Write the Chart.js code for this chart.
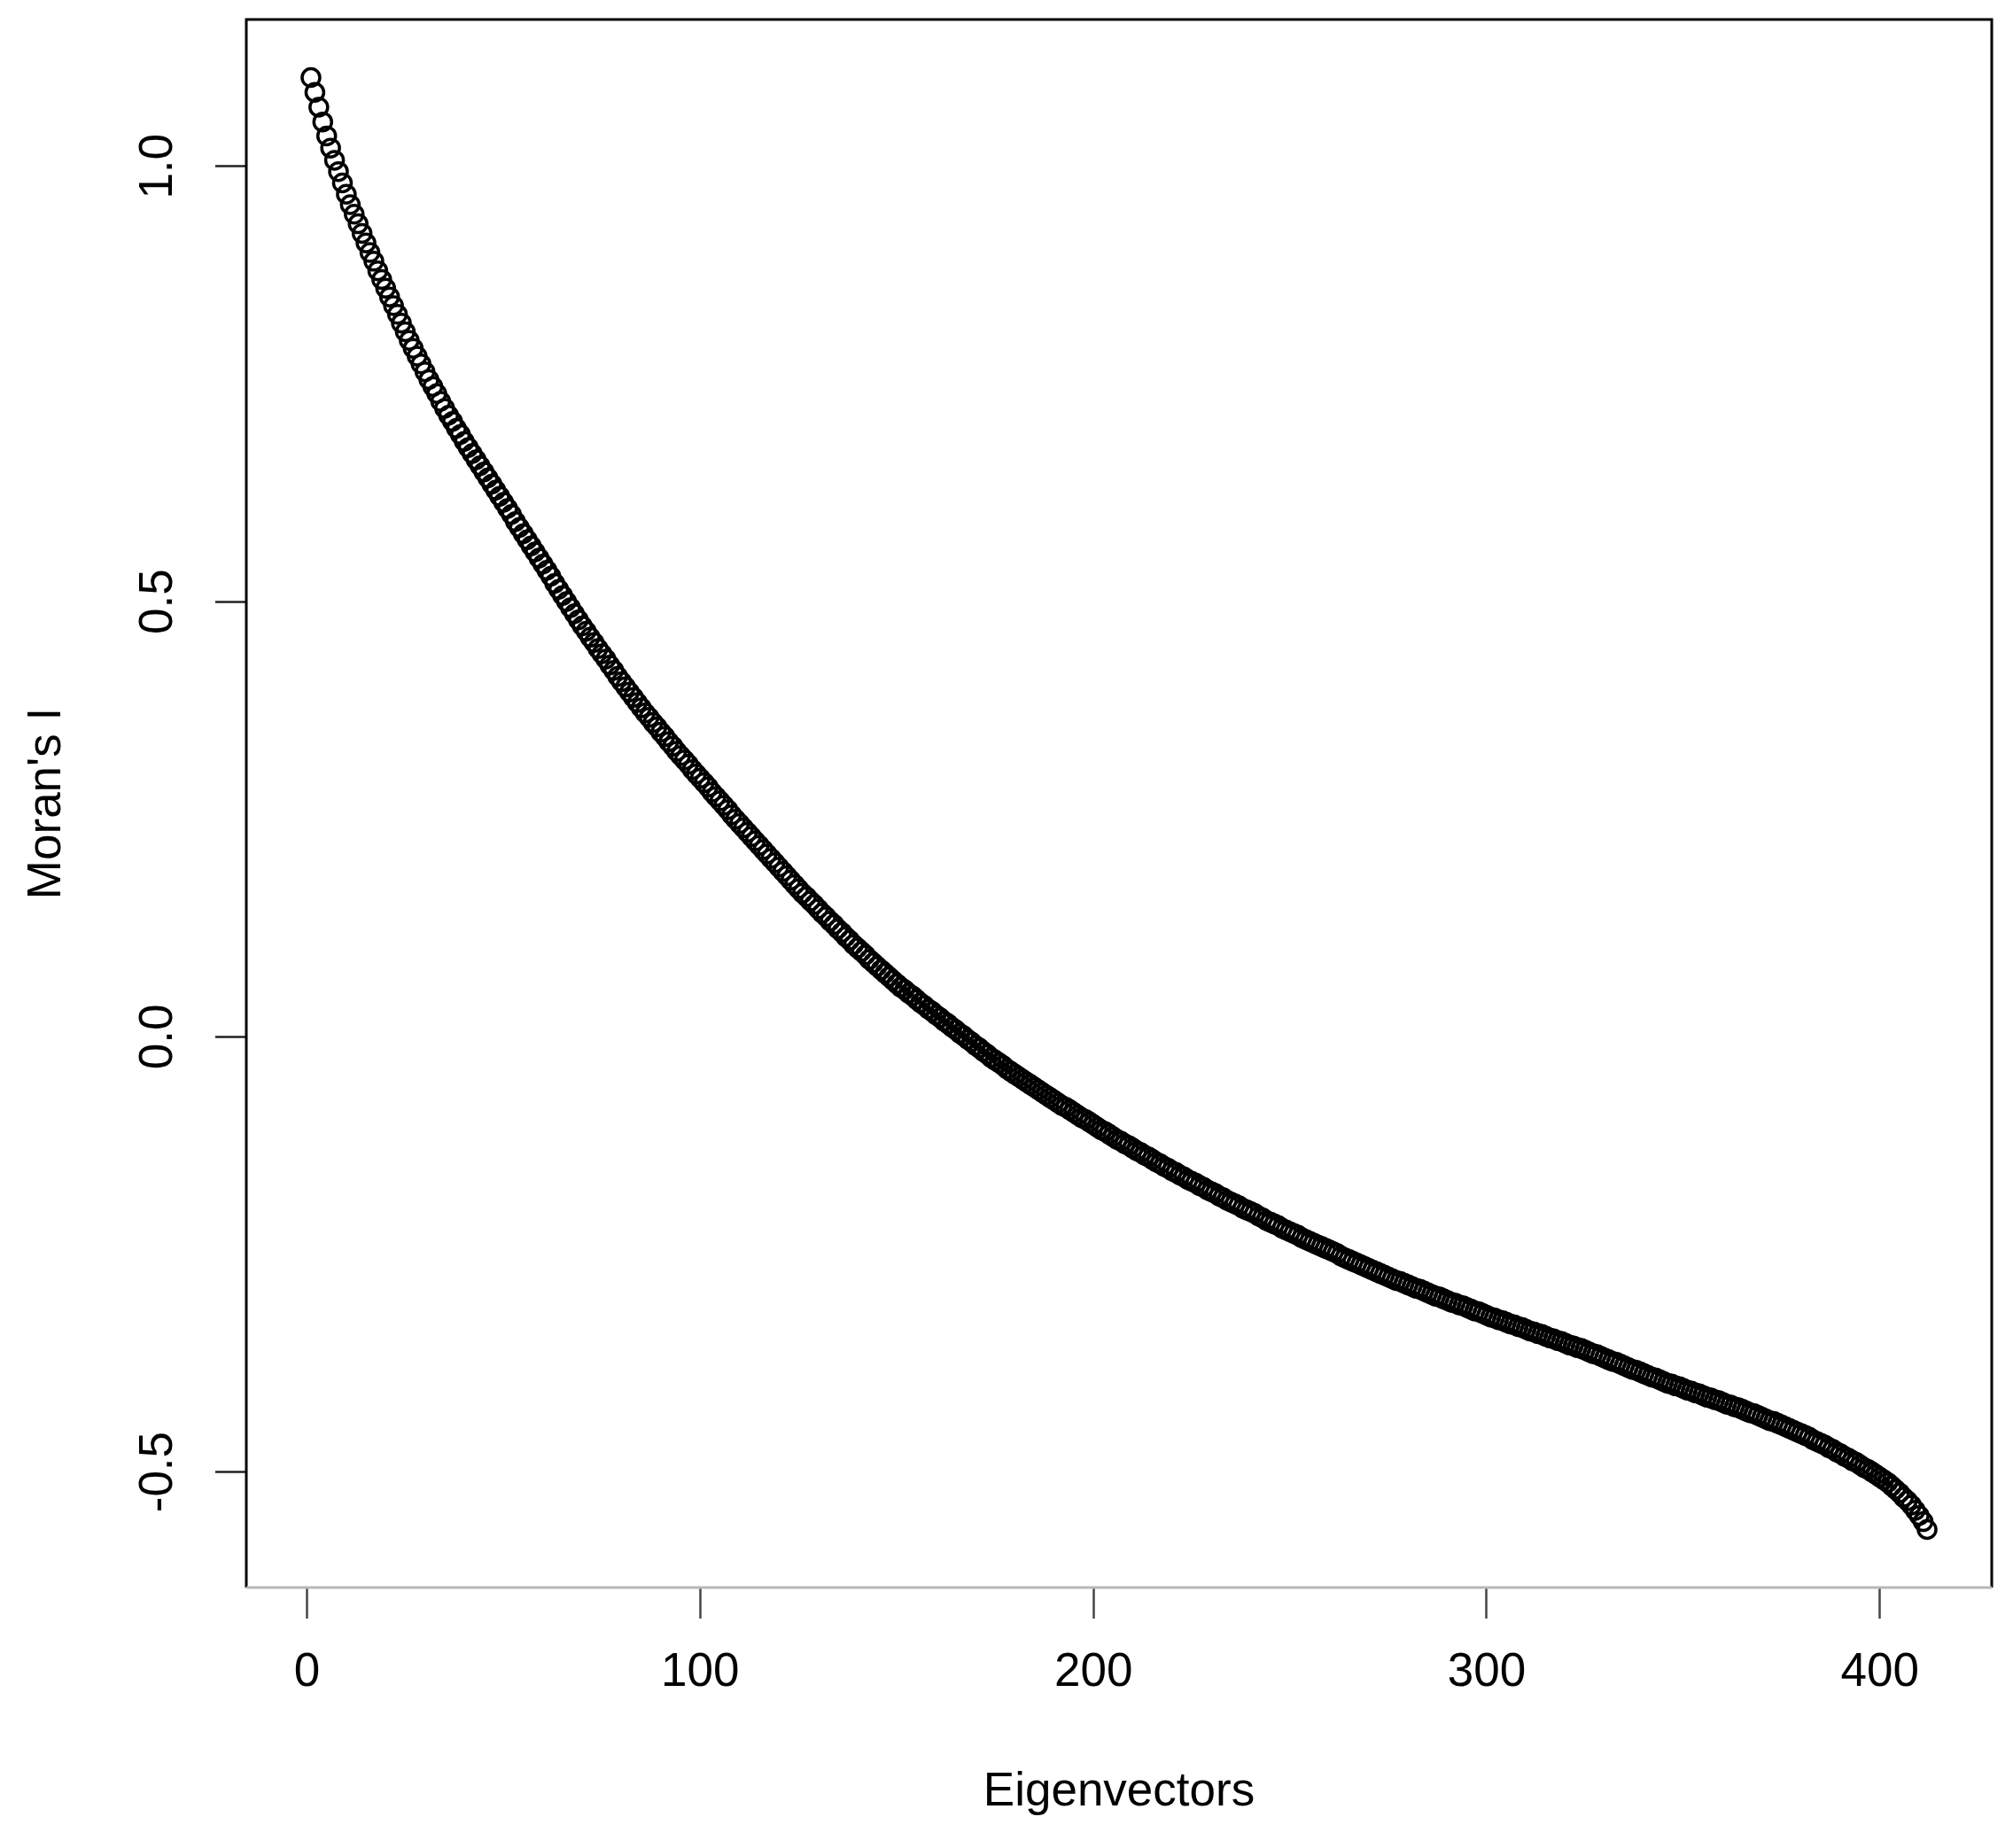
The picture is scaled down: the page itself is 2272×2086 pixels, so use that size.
<!DOCTYPE html>
<html>
<head>
<meta charset="utf-8">
<title>Moran's I of eigenvectors</title>
<script src="https://cdn.jsdelivr.net/npm/chart.js@4.4.1/dist/chart.umd.min.js"></script>
<style>
  html, body { margin: 0; padding: 0; background: #fff; }
  #wrap { width: 2272px; height: 2086px; }
</style>
</head>
<body>
<div id="wrap"><canvas id="moranChart"></canvas></div>
<script>
// Moran's I of each eigenvector (eigenvector 1 .. 412)
const moranI = [
  1.102, 1.085, 1.068, 1.051, 1.035, 1.021, 1.007, 0.994, 0.981, 0.968,
  0.956, 0.945, 0.934, 0.923, 0.912, 0.901, 0.891, 0.880, 0.870, 0.860,
  0.850, 0.840, 0.830, 0.820, 0.810, 0.800, 0.791, 0.782, 0.773, 0.764,
  0.755, 0.747, 0.739, 0.730, 0.722, 0.714, 0.707, 0.699, 0.692, 0.684,
  0.677, 0.670, 0.663, 0.656, 0.649, 0.642, 0.635, 0.628, 0.621, 0.614,
  0.607, 0.600, 0.592, 0.585, 0.578, 0.571, 0.564, 0.557, 0.550, 0.543,
  0.536, 0.529, 0.521, 0.514, 0.507, 0.500, 0.493, 0.486, 0.479, 0.472,
  0.466, 0.459, 0.453, 0.446, 0.440, 0.434, 0.427, 0.421, 0.414, 0.408,
  0.402, 0.396, 0.390, 0.384, 0.378, 0.372, 0.367, 0.361, 0.356, 0.350,
  0.345, 0.339, 0.334, 0.328, 0.323, 0.318, 0.313, 0.307, 0.302, 0.297,
  0.292, 0.287, 0.281, 0.276, 0.271, 0.266, 0.261, 0.255, 0.250, 0.245,
  0.240, 0.235, 0.230, 0.225, 0.220, 0.215, 0.210, 0.205, 0.200, 0.195,
  0.190, 0.185, 0.180, 0.175, 0.170, 0.165, 0.161, 0.156, 0.152, 0.147,
  0.142, 0.138, 0.133, 0.129, 0.124, 0.120, 0.115, 0.111, 0.106, 0.102,
  0.098, 0.094, 0.089, 0.085, 0.081, 0.077, 0.073, 0.069, 0.065, 0.061,
  0.057, 0.054, 0.050, 0.047, 0.043, 0.039, 0.036, 0.032, 0.029, 0.025,
  0.022, 0.018, 0.015, 0.011, 0.008, 0.004, 0.001, -0.003, -0.006, -0.010,
  -0.013, -0.017, -0.020, -0.024, -0.027, -0.030, -0.033, -0.037, -0.040, -0.043,
  -0.046, -0.049, -0.052, -0.055, -0.058, -0.061, -0.064, -0.067, -0.070, -0.073,
  -0.076, -0.079, -0.081, -0.084, -0.087, -0.090, -0.093, -0.095, -0.098, -0.101,
  -0.104, -0.107, -0.109, -0.112, -0.115, -0.118, -0.120, -0.123, -0.125, -0.128,
  -0.131, -0.133, -0.136, -0.138, -0.141, -0.144, -0.146, -0.149, -0.151, -0.154,
  -0.156, -0.159, -0.161, -0.164, -0.166, -0.168, -0.171, -0.173, -0.176, -0.178,
  -0.180, -0.183, -0.185, -0.188, -0.190, -0.192, -0.194, -0.197, -0.199, -0.201,
  -0.203, -0.206, -0.208, -0.211, -0.213, -0.215, -0.217, -0.220, -0.222, -0.224,
  -0.226, -0.228, -0.231, -0.233, -0.235, -0.237, -0.239, -0.241, -0.243, -0.245,
  -0.247, -0.249, -0.252, -0.254, -0.256, -0.258, -0.260, -0.262, -0.264, -0.266,
  -0.268, -0.270, -0.272, -0.274, -0.276, -0.278, -0.280, -0.281, -0.283, -0.285,
  -0.287, -0.289, -0.290, -0.292, -0.294, -0.296, -0.298, -0.299, -0.301, -0.303,
  -0.305, -0.306, -0.308, -0.309, -0.311, -0.313, -0.315, -0.316, -0.318, -0.320,
  -0.322, -0.323, -0.325, -0.326, -0.328, -0.330, -0.331, -0.333, -0.334, -0.336,
  -0.338, -0.339, -0.341, -0.342, -0.344, -0.346, -0.347, -0.349, -0.350, -0.352,
  -0.354, -0.355, -0.357, -0.358, -0.360, -0.362, -0.364, -0.365, -0.367, -0.369,
  -0.371, -0.373, -0.374, -0.376, -0.378, -0.380, -0.382, -0.383, -0.385, -0.387,
  -0.389, -0.391, -0.392, -0.394, -0.396, -0.398, -0.399, -0.401, -0.402, -0.404,
  -0.406, -0.407, -0.409, -0.410, -0.412, -0.414, -0.415, -0.417, -0.418, -0.420,
  -0.422, -0.423, -0.425, -0.426, -0.428, -0.430, -0.432, -0.433, -0.435, -0.437,
  -0.439, -0.441, -0.442, -0.444, -0.446, -0.448, -0.450, -0.452, -0.454, -0.456,
  -0.458, -0.460, -0.463, -0.465, -0.467, -0.469, -0.472, -0.474, -0.477, -0.479,
  -0.482, -0.484, -0.487, -0.489, -0.492, -0.495, -0.497, -0.500, -0.503, -0.506,
  -0.509, -0.512, -0.516, -0.520, -0.524, -0.529, -0.533, -0.538, -0.544, -0.550,
  -0.557, -0.566
];

const xTicks = [0, 100, 200, 300, 400];
const yTicks = [-0.5, 0.0, 0.5, 1.0];
const yTickLabels = ['-0.5', '0.0', '0.5', '1.0'];

const xTitle = 'Eigenvectors';
const yTitle = "Moran's I";

// R-style axis limits: data range stretched by 4% on each side
const xMinData = 1;
const xMaxData = moranI.length;
const yMinData = Math.min(...moranI);
const yMaxData = Math.max(...moranI);
const xPad = (xMaxData - xMinData) * 0.04;
const yPad = (yMaxData - yMinData) * 0.04;

const points = moranI.map((v, i) => ({ x: i + 1, y: v }));

const fontFamily = "'Liberation Sans', Arial, sans-serif";
const labelFont = { family: fontFamily, size: 53 };

// plot frame drawn like R's box()
const framePlugin = {
  id: 'frame',
  afterDatasetsDraw(chart) {
    const { ctx, chartArea: a } = chart;
    ctx.save();
    ctx.lineWidth = 3;
    ctx.strokeStyle = '#000';
    ctx.beginPath();
    ctx.moveTo(a.left, a.bottom);
    ctx.lineTo(a.left, a.top);
    ctx.lineTo(a.right, a.top);
    ctx.lineTo(a.right, a.bottom);
    ctx.stroke();
    ctx.strokeStyle = '#b8b8b8';
    ctx.beginPath();
    ctx.moveTo(a.left, a.bottom);
    ctx.lineTo(a.right, a.bottom);
    ctx.stroke();
    ctx.restore();
  }
};

const ctx = document.getElementById('moranChart').getContext('2d');

new Chart(ctx, {
  type: 'scatter',
  plugins: [framePlugin],
  data: {
    datasets: [
      {
        label: yTitle,
        data: points,
        showLine: false,
        pointStyle: 'circle',
        pointRadius: 10,
        pointBorderWidth: 3.5,
        pointBorderColor: '#000',
        pointBackgroundColor: 'rgba(0,0,0,0)'
      }
    ]
  },
  options: {
    responsive: true,
    maintainAspectRatio: false,
    devicePixelRatio: 1,
    animation: false,
    layout: {
      padding: { top: 22, right: 24, left: 0, bottom: 0 }
    },
    plugins: {
      legend: { display: false },
      tooltip: { enabled: false }
    },
    scales: {
      x: {
        type: 'linear',
        position: 'bottom',
        min: xMinData - xPad,
        max: xMaxData + xPad,
        afterBuildTicks: scale => {
          scale.ticks = xTicks.map(v => ({ value: v }));
        },
        afterFit: scale => {
          scale.height = 294;
          scale.paddingLeft = 0;
          scale.paddingRight = 0;
        },
        ticks: {
          font: labelFont,
          color: '#000',
          padding: 30,
          maxRotation: 0,
          autoSkip: false,
          callback: value => String(value)
        },
        grid: {
          drawOnChartArea: false,
          drawTicks: true,
          tickLength: 35,
          tickWidth: 2.5,
          tickColor: '#444'
        },
        border: { display: false },
        title: {
          display: true,
          text: xTitle,
          font: labelFont,
          color: '#000',
          padding: { top: 0, bottom: 31 }
        }
      },
      y: {
        type: 'linear',
        position: 'left',
        min: yMinData - yPad,
        max: yMaxData + yPad,
        afterBuildTicks: scale => {
          scale.ticks = yTicks.map(v => ({ value: v }));
        },
        afterFit: scale => {
          scale.width = 278;
          scale.paddingTop = 0;
          scale.paddingBottom = 0;
        },
        ticks: {
          font: labelFont,
          color: '#000',
          padding: 18,
          minRotation: 90,
          maxRotation: 90,
          crossAlign: 'center',
          autoSkip: false,
          callback: value => yTickLabels[yTicks.indexOf(value)]
        },
        grid: {
          drawOnChartArea: false,
          drawTicks: true,
          tickLength: 35,
          tickWidth: 2.5,
          tickColor: '#222'
        },
        border: { display: false },
        title: {
          display: true,
          text: yTitle,
          font: labelFont,
          color: '#000',
          padding: { top: 22, bottom: 0 }
        }
      }
    }
  }
});
</script>
</body>
</html>
